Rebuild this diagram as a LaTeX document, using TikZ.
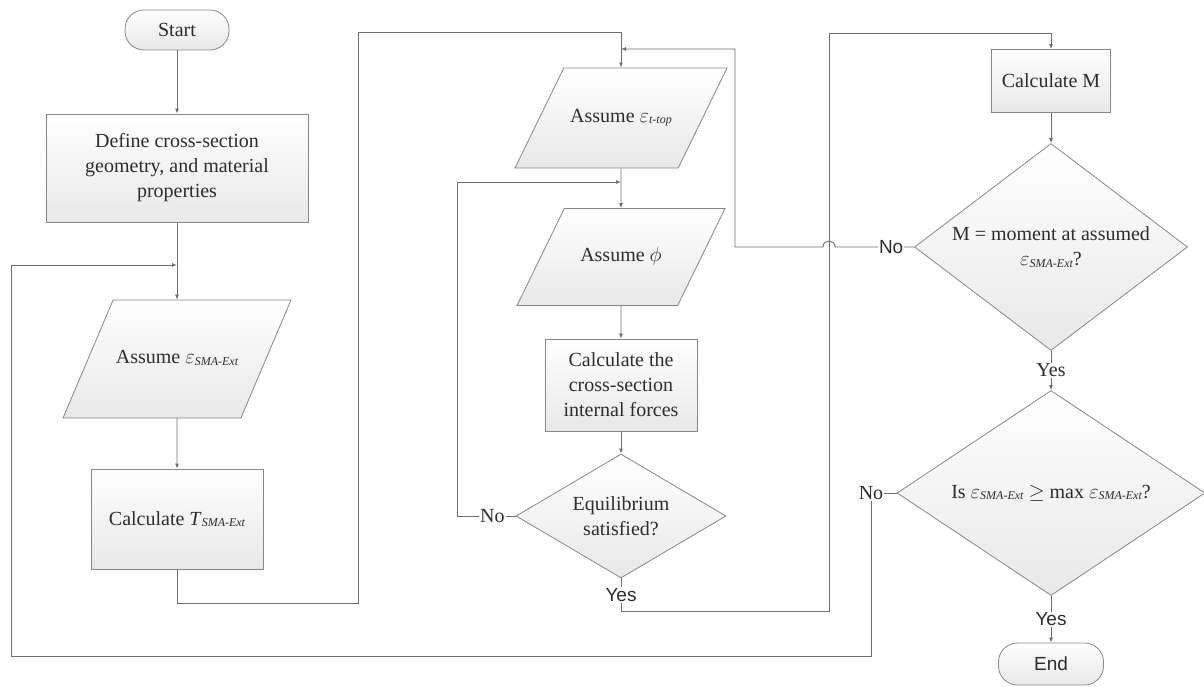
\documentclass[tikz,border=0pt]{standalone}
\usepackage{fontspec}
\setmainfont{Liberation Serif}
\newfontfamily\arialfont{Liberation Sans}
\usetikzlibrary{shapes.geometric,arrows.meta}
\definecolor{linegray}{RGB}{110,110,110}
\definecolor{edgegray}{RGB}{135,135,135}
\definecolor{textgray}{RGB}{45,45,45}
\newcommand{\subtxt}[1]{\raisebox{-1.5pt}{\itshape\fontsize{12}{12}\selectfont #1}}
\tikzset{
 box/.style={draw=edgegray, line width=0.8pt, top color=white, bottom color=black!9, text=textgray, align=center, inner sep=2pt},
 terminal/.style={box, rounded corners=19pt},
 io/.style={box, trapezium, trapezium left angle=64, trapezium right angle=116, trapezium stretches body, text height=13pt, text depth=4pt},
 decision/.style={box, diamond, inner sep=0pt},
 wire/.style={draw=linegray, line width=0.9pt},
 arr/.style={wire, -{Latex[length=5pt,width=4pt]}},
 lbl/.style={fill=white, text=textgray, inner sep=1pt},
 sans/.style={font=\arialfont\fontsize{19}{22}\selectfont},
}
\begin{document}
\begin{tikzpicture}[x=1pt, y=-1pt, font=\fontsize{20}{25}\selectfont]
\useasboundingbox (0,0) rectangle (1204,687);
% left column
\node[terminal, minimum width=104pt, minimum height=40pt] (start) at (177,30) {Start};
\node[box, minimum width=262pt, minimum height=108pt] (define) at (177,168) {Define cross-section\\geometry, and material\\properties};
\node[io, trapezium left angle=67, trapezium right angle=113, inner ysep=50.5pt, minimum width=228pt] (assumeSMA) at (177,359) {Assume $\varepsilon$\subtxt{SMA-Ext}};
\node[box, minimum width=172pt, minimum height=100pt] (calcT) at (177,519) {Calculate \textit{T}\subtxt{SMA-Ext}};
% middle column
\node[io, inner ysep=41.5pt, minimum width=212pt] (assumeTop) at (621,118) {Assume $\varepsilon$\subtxt{t-top}};
\node[io, inner ysep=40pt, minimum width=208pt] (assumePhi) at (621,257) {Assume $\phi$};
\node[box, minimum width=152pt, minimum height=92pt] (calcF) at (621,385) {Calculate the\\cross-section\\internal forces};
\node[decision, aspect=1.69, minimum width=210pt, minimum height=124pt] (equil) at (621,516) {Equilibrium\\satisfied?};
% right column
\node[box, minimum width=119pt, minimum height=63pt] (calcM) at (1051,81) {Calculate M};
\node[decision, aspect=1.32, minimum width=273pt, minimum height=207pt] (mCheck) at (1051,247) {M = moment at assumed\\$\varepsilon$\subtxt{SMA-Ext}?};
\node[decision, aspect=1.5, minimum width=308pt, minimum height=205pt] (maxCheck) at (1051,493) {Is $\varepsilon$\subtxt{SMA-Ext} $\geq$ max $\varepsilon$\subtxt{SMA-Ext}?};
\node[terminal, minimum width=105pt, minimum height=42pt, sans] (stop) at (1051,664) {End};
% joins
\coordinate (join1) at (177,265);
\coordinate (join2) at (621,182);
\coordinate (join3) at (621,49);
\path[arr]
(start) edge (define)
(define) edge (assumeSMA)
(assumeSMA) edge (calcT)
(assumeTop) edge (assumePhi)
(assumePhi) edge (calcF)
(calcF) edge (equil)
(calcM) edge (mCheck)
(mCheck) edge node[lbl]{Yes} (maxCheck)
(maxCheck) edge node[lbl, sans]{Yes} (stop);
\draw[arr] (calcT.south) -- ++(0,34) -| (358,32) -| (assumeTop.north);
\draw[arr] (equil.west) -- node[lbl, pos=.4]{No} ++(-58,0) |- (join2);
\draw[arr] (equil.south) -- node[lbl, sans]{Yes} ++(0,33) -| (829,33) -| (calcM.north);
\draw[arr] (mCheck.west) -- node[lbl, sans, pos=.29]{No} (835,247) .. controls (835,239) and (823,239) .. (823,247) -- (735,247) |- (join3);
\draw[arr] (maxCheck.west) -- (871,493) node[lbl]{No} |- (11,656) |- (join1);
\end{tikzpicture}
\end{document}
